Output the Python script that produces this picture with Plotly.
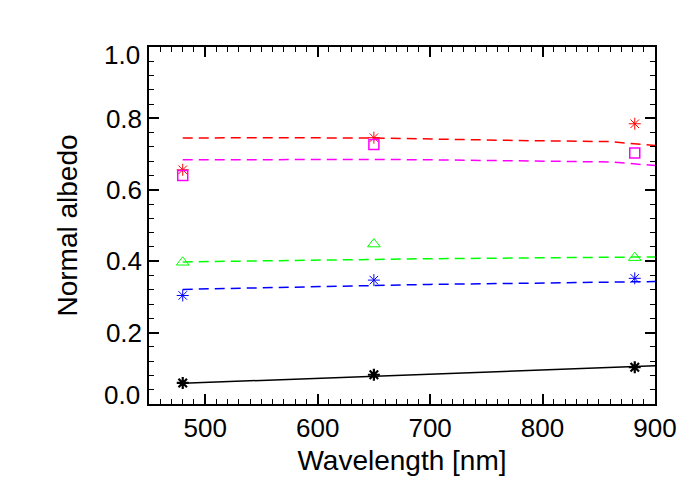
import plotly.graph_objects as go

# measured points (three filters)
wl_obs = [480, 650, 882]
red_obs = [0.656, 0.746, 0.785]
mag_obs = [0.640, 0.727, 0.703]
grn_obs = [0.397, 0.448, 0.410]
blu_obs = [0.304, 0.347, 0.352]
blk_obs = [0.059, 0.082, 0.103]

# model curves
wl_mod = [480, 550, 650, 700, 780, 860, 900]
red_mod = [0.745, 0.746, 0.745, 0.742, 0.738, 0.735, 0.724]
mag_mod = [0.684, 0.685, 0.685, 0.684, 0.682, 0.678, 0.668]
grn_mod = [0.398, 0.401, 0.406, 0.407, 0.409, 0.411, 0.412]
blu_mod = [0.321, 0.326, 0.333, 0.335, 0.338, 0.341, 0.343]
wl_blk = [480, 900]
blk_mod = [0.058, 0.107]

# y tick labels; the two end labels sit inside the frame like IDL draws them
y_ticks = [0.2, 0.4, 0.6, 0.8]
y_end_ticks = [0.0, 1.0]

fig = go.Figure()

dash = "10px,6px"
for y, c in [(red_mod, "#ff0000"), (mag_mod, "#ff00ff"),
             (grn_mod, "#00ff00"), (blu_mod, "#0000ff")]:
    fig.add_trace(go.Scatter(x=wl_mod, y=y, mode="lines",
                             line=dict(color=c, width=1.5, dash=dash)))
fig.add_trace(go.Scatter(x=wl_blk, y=blk_mod, mode="lines",
                         line=dict(color="black", width=1.5)))

markers = [
    (red_obs, "#ff0000", "asterisk-open", 10, 1),
    (mag_obs, "#ff00ff", "square-open", 10, 1.5),
    (grn_obs, "#00ff00", "triangle-up-open", 11, 1),
    (blu_obs, "#0000ff", "asterisk-open", 10, 1),
    (blk_obs, "black", "asterisk-open", 10, 2.2),
]
for y, c, sym, sz, lw in markers:
    fig.add_trace(go.Scatter(x=wl_obs, y=y, mode="markers", cliponaxis=False,
                             marker=dict(symbol=sym, size=sz, color=c,
                                         line=dict(color=c, width=lw))))

font_family = "Liberation Sans, Arial, sans-serif"
tick_font = dict(family=font_family, size=26, color="black")
title_font = dict(family=font_family, size=28, color="black")
common = dict(showline=True, linecolor="black", linewidth=1.5, mirror="allticks",
              ticks="inside", ticklen=10, tickwidth=1.5, tickcolor="black",
              showgrid=False, zeroline=False, tickfont=tick_font,
              title_font=title_font, automargin=False)

fig.update_xaxes(range=[450, 900], dtick=100, tick0=500,
                 minor=dict(dtick=10, ticks="inside", ticklen=5, tickwidth=1, tickcolor="black"),
                 title_text="Wavelength [nm]", title_standoff=8, **common)
fig.update_yaxes(range=[0, 1], tickvals=y_ticks, ticktext=[f"{v:.1f}" for v in y_ticks],
                 minor=dict(tickvals=[i / 25 for i in range(26)], ticks="inside",
                            ticklen=5, tickwidth=1, tickcolor="black"),
                 title_text="Normal albedo", title_standoff=20, **common)

for v in y_end_ticks:
    fig.add_annotation(x=0, xref="paper", y=v, yref="y", text=f"{v:.1f}",
                       showarrow=False, xanchor="right", xshift=-7,
                       yanchor="bottom" if v == 0 else "top",
                       yshift=-8 if v == 0 else 9, font=tick_font)

fig.update_layout(width=700, height=500, showlegend=False,
                  plot_bgcolor="white", paper_bgcolor="white",
                  margin=dict(l=141, r=53, t=39, b=104))

fig.write_html("out.html")
